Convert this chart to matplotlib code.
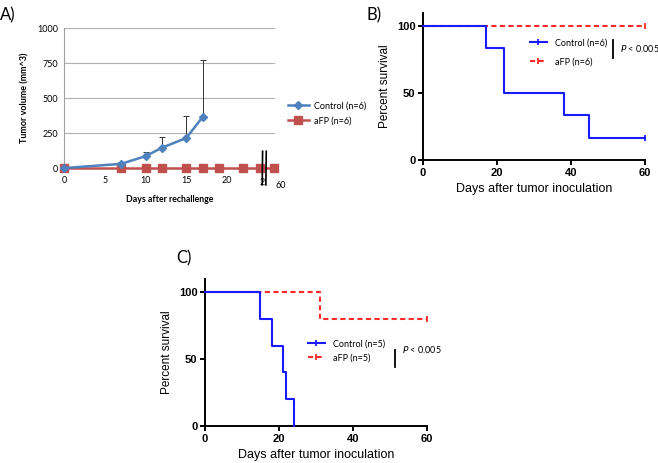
import numpy as np
import matplotlib.pyplot as plt
from matplotlib.lines import Line2D

# panel A: tumor volume after rechallenge
ctrl_days = [0, 7, 10, 12, 15, 17]
ctrl_vol = [0, 30, 85, 145, 215, 365]
ctrl_err = [0, 10, 30, 80, 155, 410]
afp_days = [0, 7, 10, 12, 15, 17, 19, 22, 24, 60]
afp_vol = [0, 0, 0, 0, 0, 0, 0, 0, 0, 0]
a_yticks = [0, 250, 500, 750, 1000]
a_xticks = [0, 5, 10, 15, 20]

# panel B: survival, n=6
b_ctrl_t = [0, 17, 22, 38, 45, 60]
b_ctrl_s = [100, 83.3, 50, 33.3, 16.7, 16.7]
b_afp_t = [0, 60]
b_afp_s = [100, 100]

# panel C: survival, n=5
c_ctrl_t = [0, 15, 18, 21, 22, 24]
c_ctrl_s = [100, 80, 60, 40, 20, 0]
c_afp_t = [0, 31, 60]
c_afp_s = [100, 80, 80]

BLUE_A = '#4f81bd'
RED_A = '#c0504d'
BLUE = '#1a1aff'
RED = '#ff2a2a'
calib = ['Lato', 'DejaVu Sans']
arial = ['Liberation Sans', 'DejaVu Sans']

fig = plt.figure(figsize=(6.58, 4.63), dpi=100)

# break axis: day 60 drawn just past the break
def xpos(d):
    return d if d <= 25 else 25.8

# ---- A ----
axA = fig.add_axes([0.0973, 0.637, 0.321, 0.3025])
axA.set_xlim(0, 25.9)
axA.set_ylim(0, 1000)
for y in a_yticks[1:]:
    axA.axhline(y, color='#b0b0b0', lw=0.8, zorder=0)
for s in ['top', 'right', 'bottom']:
    axA.spines[s].set_visible(False)
axA.spines['left'].set_color('#a0a0a0')
axA.tick_params(axis='y', length=0, labelsize=6.5, pad=4)
axA.tick_params(axis='x', length=0, labelsize=6.5, pad=6)
axA.set_yticks(a_yticks)
axA.set_xticks(a_xticks)
for lab in axA.get_xticklabels() + axA.get_yticklabels():
    lab.set_family(calib)
axA.errorbar(ctrl_days, ctrl_vol, yerr=[np.zeros(len(ctrl_err)), ctrl_err],
             fmt='none', ecolor='#333333', elinewidth=0.7, capsize=2.5, capthick=0.7, zorder=2)
axA.plot([xpos(d) for d in afp_days], afp_vol, color=RED_A, lw=1.8, marker='s', ms=5.5,
         clip_on=False, zorder=3, label='aFP (n=6)')
axA.plot(ctrl_days, ctrl_vol, color=BLUE_A, lw=1.8, marker='D', ms=4.5,
         clip_on=False, zorder=4, label='Control (n=6)')
# axis break marks
for xb in [24.3, 24.75]:
    axA.plot([xb, xb + 0.05], [-120, 120], color='black', lw=1.2, clip_on=False, zorder=5)
axA.text(24.25, -70, '2', ha='center', va='top', fontsize=6.5, family=calib)
axA.text(26.6, -95, '60', ha='center', va='top', fontsize=6.5, family=calib)
axA.set_ylabel('Tumor volume (mm^3)', fontsize=6.5, fontweight='bold', family=calib, labelpad=6)
axA.set_xlabel('Days after rechallenge', fontsize=6.3, fontweight='bold', family=calib, labelpad=7)
hA = [Line2D([], [], color=BLUE_A, lw=1.8, marker='D', ms=4.5),
      Line2D([], [], color=RED_A, lw=1.8, marker='s', ms=5.5)]
axA.legend(hA, ['Control (n=6)', 'aFP (n=6)'], loc='center left', bbox_to_anchor=(1.06, 0.39),
           frameon=False, numpoints=1, handlelength=2.3, handletextpad=0.6, labelspacing=0.65,
           borderpad=0, borderaxespad=0, prop={'family': calib, 'size': 6.5})
fig.text(0.0, 0.985, 'A)', fontsize=12, family=calib, va='top')


def km_panel(rect, ct, cs, at, asurv, nlab, leg_xy, lab_sp, bar_x, bar_y, p_xy, tag, tag_xy):
    ax = fig.add_axes(rect)
    ax.set_xlim(0, 60)
    ax.set_ylim(0, 110)
    for s in ['top', 'right']:
        ax.spines[s].set_visible(False)
    for s in ['left', 'bottom']:
        ax.spines[s].set_linewidth(1.4)
    ax.set_xticks([0, 20, 40, 60])
    ax.set_yticks([0, 50, 100])
    ax.tick_params(width=1.4, length=3.5, labelsize=8, pad=2)
    for lab in ax.get_xticklabels() + ax.get_yticklabels():
        lab.set_family(arial)
        lab.set_fontweight('bold')
    ax.step(at, asurv, where='post', color=RED, lw=1.5, ls=(0, (2.5, 1.6)), clip_on=False, zorder=3)
    ax.step(ct, cs, where='post', color=BLUE, lw=1.5, clip_on=False, zorder=4)
    if cs[-1] > 0:
        ax.plot(ct[-1], cs[-1], marker='|', color=BLUE, ms=4, mew=1.3, clip_on=False)
    ax.plot(at[-1], asurv[-1], marker='|', color=RED, ms=4, mew=1.3, clip_on=False)
    ax.set_ylabel('Percent survival', fontsize=8.5, family=arial, labelpad=4)
    ax.set_xlabel('Days after tumor inoculation', fontsize=9, family=arial, labelpad=4)
    hs = [Line2D([], [], color=BLUE, lw=1.5, marker='|', ms=4, mew=1.3),
          Line2D([], [], color=RED, lw=1.5, ls=(0, (2.5, 1.6)), marker='|', ms=4, mew=1.3)]
    ax.legend(hs, ['Control (n=%d)' % nlab, 'aFP (n=%d)' % nlab], loc='center left',
              bbox_to_anchor=leg_xy, frameon=False, numpoints=1, handlelength=1.9,
              handletextpad=0.9, labelspacing=lab_sp, borderpad=0, borderaxespad=0,
              prop={'family': calib, 'size': 6.5})
    ax.plot([bar_x, bar_x], bar_y, color='black', lw=1.3, transform=ax.transAxes, clip_on=False)
    ax.text(p_xy[0], p_xy[1], r'$\it{P}$ < 0.005', fontsize=6.5, family=calib,
            transform=ax.transAxes, va='center', ha='left')
    fig.text(tag_xy[0], tag_xy[1], tag, fontsize=12, family=calib, va='top')
    return ax


km_panel([0.643, 0.654, 0.337, 0.319], b_ctrl_t, b_ctrl_s, b_afp_t, b_afp_s, 6,
         (0.48, 0.73), 1.1, 0.856, [0.814, 0.692], (0.887, 0.753), 'B)', (0.557, 0.985))
km_panel([0.3116, 0.0799, 0.337, 0.3185], c_ctrl_t, c_ctrl_s, c_afp_t, c_afp_s, 5,
         (0.464, 0.509), 0.55, 0.856, [0.516, 0.40], (0.887, 0.516), 'C)', (0.268, 0.46))

fig.savefig('out.png', dpi=100)
